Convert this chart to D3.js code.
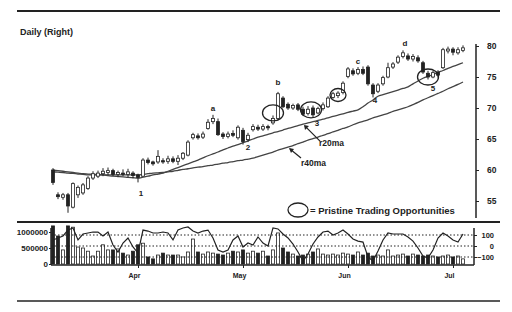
<!DOCTYPE html>
<html><head><meta charset="utf-8">
<script src="https://cdn.jsdelivr.net/npm/d3@7"></script>
<style>
body{margin:0;background:#fff;}
text{font-family:"Liberation Sans",Arial,sans-serif;font-weight:bold;fill:#222;}
</style></head>
<body><svg id="c" width="512" height="312"></svg>
<script>
// ---- data (trading-day index 0..82) ----
const days = d3.range(83);
const monthTicks = [17, 38, 59, 80];
const monthLabels = ["Apr", "May", "Jun", "Jul"];
const priceTicks = [55, 60, 65, 70, 75, 80];
const volTicks = [0, 500000, 1000000];
const oscTicks = [-100, 0, 100];

const open = [60.0,56.0,55.6,56.0,54.0,56.0,56.3,57.0,58.7,59.0,
59.4,59.6,59.9,59.3,59.5,59.3,59.5,59.2,59.0,61.6,
61.3,61.3,61.5,61.4,61.8,61.4,61.9,62.4,65.2,65.5,
65.3,66.7,67.8,67.8,65.8,65.4,65.9,65.2,66.4,64.9,
66.5,66.9,66.6,67.0,67.6,68.3,71.6,70.6,70.0,70.5,
69.8,69.1,70.0,69.2,69.9,70.2,71.7,72.0,72.5,75.1,
76.0,75.6,76.2,76.6,73.7,72.7,73.9,75.0,76.6,77.4,
78.3,78.4,77.9,78.1,77.3,75.6,75.0,75.8,76.5,79.2,
79.5,78.9,79.3];
const close = [58.0,55.7,56.0,54.2,57.8,57.2,57.6,58.7,59.4,59.5,
59.8,59.9,59.3,59.6,59.3,59.7,59.1,58.8,61.6,61.2,
61.0,62.2,61.3,61.8,61.4,61.9,62.7,64.5,65.7,65.2,
65.8,67.7,68.3,65.7,65.4,65.8,65.6,66.9,64.6,65.6,
67.0,66.6,67.0,66.8,68.3,72.3,70.2,70.0,70.4,69.8,
69.0,69.8,68.9,69.9,70.5,71.6,72.3,72.4,74.0,76.3,
75.5,76.2,75.6,73.9,72.3,73.7,74.9,76.5,77.1,78.2,
78.9,77.9,78.3,77.6,75.8,75.0,75.7,75.3,79.4,79.5,
79.0,79.4,79.7];
const high = [60.3,56.4,56.3,56.3,58.0,57.5,57.9,59.0,59.8,59.9,
60.3,60.4,60.2,59.9,60.1,60.2,59.8,59.4,61.9,62.0,
61.5,63.2,61.9,62.3,62.2,62.4,62.9,64.8,66.0,65.9,
66.2,68.2,68.9,68.3,66.1,66.2,66.4,67.2,66.8,66.0,
67.4,67.3,67.4,67.3,68.8,72.6,71.9,70.9,70.7,70.8,
70.2,70.3,70.4,70.2,70.9,71.9,72.6,72.7,74.3,76.6,
76.4,76.6,76.7,76.9,74.0,74.0,75.2,77.3,77.4,78.5,
79.3,78.8,78.7,78.5,77.6,76.0,76.0,76.1,79.7,79.9,
79.8,79.8,80.1];
const low = [57.6,55.3,55.2,53.1,53.8,55.5,56.0,56.8,58.4,58.7,
59.0,59.2,59.0,58.9,59.0,58.8,58.7,58.0,58.9,60.9,
60.7,61.0,61.0,61.0,61.1,60.8,61.6,62.2,64.9,64.9,
65.0,66.5,67.4,65.5,65.0,65.1,65.3,64.9,64.1,64.5,
66.2,66.3,66.3,66.4,67.3,68.0,70.0,69.7,69.7,69.5,
68.7,68.8,68.5,69.0,69.6,70.0,71.5,71.6,72.2,74.8,
75.2,75.3,75.3,73.6,71.7,72.4,73.6,74.8,76.3,77.1,
78.0,77.6,77.5,77.3,75.5,74.6,74.8,74.9,76.3,78.8,
78.5,78.6,79.0];
const ma20 = [60.0,59.9,59.8,59.7,59.6,59.5,59.4,59.35,59.3,59.25,
59.2,59.1,59.0,58.95,58.9,58.8,58.75,58.7,58.85,59.0,
59.2,59.35,59.5,59.8,60.1,60.4,60.7,61.0,61.3,61.6,
61.95,62.3,62.6,62.9,63.25,63.55,63.85,64.1,64.4,64.7,
65.0,65.3,65.5,65.75,66.0,66.2,66.45,66.7,66.9,67.15,
67.4,67.6,67.8,68.0,68.2,68.4,68.65,68.85,69.05,69.3,
69.5,69.7,70.2,70.8,71.3,71.9,72.15,72.4,72.65,72.9,
73.15,73.4,73.9,74.35,74.8,75.1,75.4,75.75,76.05,76.4,
76.7,77.0,77.3];
const ma40 = [59.7,59.65,59.6,59.5,59.45,59.35,59.3,59.2,59.2,59.2,
59.2,59.2,59.2,59.2,59.2,59.2,59.2,59.2,59.3,59.4,
59.5,59.55,59.6,59.7,59.8,59.95,60.1,60.2,60.35,60.45,
60.55,60.7,60.8,60.95,61.1,61.2,61.35,61.5,61.6,61.75,
61.9,62.15,62.4,62.65,62.9,63.2,63.45,63.7,63.95,64.25,
64.5,64.8,65.05,65.3,65.6,65.85,66.15,66.4,66.7,66.95,
67.3,67.6,67.85,68.1,68.4,68.65,68.9,69.15,69.45,69.7,
69.95,70.2,70.55,70.9,71.3,71.65,72.0,72.35,72.7,73.1,
73.45,73.8,74.2];
const volume = [1190000,875000,440000,1190000,1150000,530000,500000,400000,250000,400000,
600000,440000,440000,470000,340000,280000,400000,600000,650000,220000,
160000,280000,340000,280000,280000,280000,220000,375000,780000,375000,
310000,375000,340000,310000,280000,340000,400000,375000,440000,340000,
400000,340000,400000,250000,440000,970000,500000,375000,310000,250000,
280000,310000,375000,470000,310000,280000,310000,280000,340000,310000,
280000,375000,280000,340000,250000,280000,250000,440000,250000,280000,
310000,250000,310000,280000,250000,280000,250000,220000,250000,280000,
220000,250000,160000];
const osc = [55,73,91,145,164,55,109,118,127,127,
91,127,9,-55,27,73,-9,-64,145,136,
118,118,127,118,55,145,164,173,136,118,
136,145,73,-36,-55,-36,55,91,-9,27,
9,82,27,0,164,155,109,73,18,-55,
-136,-73,18,82,127,136,100,118,145,109,
64,45,36,-100,-136,-45,55,118,109,109,
109,82,45,-18,-91,-109,-36,73,118,91,
55,36,109];
const circleDay = [44, 51.6, 57, 75];
const circlePrice = [69.2, 69.7, 72.1, 75.0];
const peakLabels = ["a", "b", "c", "d"];
const peakDay = [32, 45, 61, 70.4];
const peakPrice = [70.0, 74.2, 77.6, 80.5];
const pullLabels = ["1", "2", "3", "4", "5"];
const pullDay = [17.6, 39, 52.8, 64.4, 76];
const pullPrice = [56.3, 63.7, 67.6, 71.3, 73.2];

// ---- drawing ----
const svg = d3.select("#c");
const ink = "#222";
const x = d3.scaleLinear().domain([0, 82]).range([53, 463]);
const y = d3.scaleLinear().domain([55, 80]).range([201, 46]);
const yVol = d3.scaleLinear().domain([0, 1000000]).range([264, 232]);
const yOsc = d3.scaleLinear().domain([-100, 100]).range([257, 235]);

// frame lines
[[11, 2], [222, 2], [301, 1.5]].forEach(([yy, w]) =>
  svg.append("line").attr("x1", 17).attr("x2", 500).attr("y1", yy).attr("y2", yy)
    .attr("stroke", ink).attr("stroke-width", w));

svg.append("text").attr("x", 20).attr("y", 35).attr("font-size", 9).text("Daily (Right)");

// price axis
svg.append("line").attr("x1", 476).attr("x2", 476).attr("y1", 44).attr("y2", 218)
  .attr("stroke", ink).attr("stroke-width", 1.5);
const pa = svg.append("g").attr("transform", "translate(476,0)")
  .call(d3.axisRight(y).tickValues(priceTicks).tickSize(3).tickPadding(8));
pa.select(".domain").remove();
pa.selectAll("text").attr("font-size", 8.5).attr("fill", ink).attr("font-weight", "bold")
  .attr("font-family", "Liberation Sans, Arial");
pa.selectAll("line").attr("stroke", ink);

// moving averages
const line = arr => d3.line().x((d, i) => x(i)).y(d => y(d)).curve(d3.curveMonotoneX)(arr);
svg.append("path").attr("d", line(ma40)).attr("fill", "none").attr("stroke", "#444").attr("stroke-width", 1.3);
svg.append("path").attr("d", line(ma20)).attr("fill", "none").attr("stroke", "#444").attr("stroke-width", 1.3);

// candles
const cg = svg.append("g");
days.forEach(i => {
  const up = close[i] >= open[i];
  cg.append("line").attr("x1", x(i)).attr("x2", x(i)).attr("y1", y(high[i])).attr("y2", y(low[i]))
    .attr("stroke", ink).attr("stroke-width", 1);
  const t = y(Math.max(open[i], close[i])), b = y(Math.min(open[i], close[i]));
  cg.append("rect").attr("x", x(i) - 1.5).attr("y", t).attr("width", 3).attr("height", Math.max(1, b - t))
    .attr("fill", up ? "#fff" : ink).attr("stroke", ink).attr("stroke-width", 0.8);
});

// circles
circleDay.forEach((d, k) => {
  svg.append("ellipse").attr("cx", x(d)).attr("cy", y(circlePrice[k]))
    .attr("rx", k === 2 ? 8 : 10.5).attr("ry", k === 2 ? 6.5 : 8)
    .attr("fill", "none").attr("stroke", ink).attr("stroke-width", 1.3);
});

// labels
peakLabels.forEach((t, k) => svg.append("text").attr("x", x(peakDay[k])).attr("y", y(peakPrice[k]) + 3)
  .attr("text-anchor", "middle").attr("font-size", 8).text(t));
pullLabels.forEach((t, k) => svg.append("text").attr("x", x(pullDay[k])).attr("y", y(pullPrice[k]) + 3)
  .attr("text-anchor", "middle").attr("font-size", 8).text(t));

// MA annotations
const tip20 = [x(50), y(ma20[50])], tip40 = [x(47), y(ma40[47])];
svg.append("line").attr("x1", tip20[0] + 2).attr("y1", tip20[1] + 2).attr("x2", tip20[0] + 17).attr("y2", tip20[1] + 17)
  .attr("stroke", ink).attr("stroke-width", 1.2);
svg.append("path").attr("d", `M${tip20[0]+1},${tip20[1]+1} l5,1 l-4,4 z`).attr("fill", ink);
svg.append("text").attr("x", tip20[0] + 16).attr("y", tip20[1] + 22).attr("font-size", 8.5).text("r20ma");
svg.append("line").attr("x1", tip40[0] + 2).attr("y1", tip40[1] + 2).attr("x2", tip40[0] + 13).attr("y2", tip40[1] + 11)
  .attr("stroke", ink).attr("stroke-width", 1.2);
svg.append("path").attr("d", `M${tip40[0]+1},${tip40[1]+1} l5,1 l-3,4 z`).attr("fill", ink);
svg.append("text").attr("x", tip40[0] + 13).attr("y", tip40[1] + 19).attr("font-size", 8.5).text("r40ma");

// legend
svg.append("ellipse").attr("cx", 298).attr("cy", 210).attr("rx", 10).attr("ry", 7)
  .attr("fill", "none").attr("stroke", ink).attr("stroke-width", 1.3);
svg.append("text").attr("x", 310).attr("y", 214).attr("font-size", 9.5).text("= Pristine Trading Opportunities");

// ---- lower panel ----
svg.append("line").attr("x1", 51).attr("x2", 51).attr("y1", 228).attr("y2", 265).attr("stroke", ink).attr("stroke-width", 1.5);
svg.append("line").attr("x1", 474).attr("x2", 474).attr("y1", 228).attr("y2", 265).attr("stroke", ink).attr("stroke-width", 1.5);
svg.append("line").attr("x1", 51).attr("x2", 474).attr("y1", 265).attr("y2", 265).attr("stroke", ink).attr("stroke-width", 1.5);

const vg = svg.append("g");
days.forEach(i => {
  const up = close[i] >= open[i];
  vg.append("rect").attr("x", x(i) - 1.5).attr("y", yVol(volume[i])).attr("width", 3)
    .attr("height", yVol(0) - yVol(volume[i]))
    .attr("fill", up ? "#fff" : ink).attr("stroke", ink).attr("stroke-width", 0.8);
});

oscTicks.forEach(t => svg.append("line").attr("x1", 51).attr("x2", 474).attr("y1", yOsc(t)).attr("y2", yOsc(t))
  .attr("stroke", ink).attr("stroke-width", 1).attr("stroke-dasharray", "1.5,2"));

svg.append("path").attr("d", d3.line().x((d, i) => x(i)).y(d => yOsc(d))(osc))
  .attr("fill", "none").attr("stroke", ink).attr("stroke-width", 1.2);

const va = svg.append("g").attr("transform", "translate(51,0)")
  .call(d3.axisLeft(yVol).tickValues(volTicks).tickFormat(d3.format("d")).tickSize(2).tickPadding(1));
va.select(".domain").remove();
va.selectAll("text").attr("font-size", 8).attr("fill", ink).attr("font-weight", "bold").attr("font-family", "Liberation Sans, Arial");
va.selectAll("line").attr("stroke", ink);

const oa = svg.append("g").attr("transform", "translate(474,0)")
  .call(d3.axisRight(yOsc).tickValues(oscTicks).tickFormat(d3.format("d")).tickSize(3));
oa.select(".domain").remove();
oa.selectAll("text").attr("font-size", 7.5).attr("fill", ink).attr("font-weight", "bold")
  .attr("font-family", "Liberation Sans, Arial").attr("text-anchor", "end").attr("x", 20);
oa.selectAll("line").attr("stroke", ink);

const ma = svg.append("g").attr("transform", "translate(0,265)")
  .call(d3.axisBottom(x).tickValues(monthTicks).tickFormat((d, i) => monthLabels[i]).tickSize(3).tickPadding(5));
ma.select(".domain").remove();
ma.selectAll("text").attr("font-size", 7).attr("fill", ink).attr("font-weight", "bold")
  .attr("font-family", "Liberation Sans, Arial").attr("dx", -4);
ma.selectAll("line").attr("stroke", ink);
</script></body></html>
